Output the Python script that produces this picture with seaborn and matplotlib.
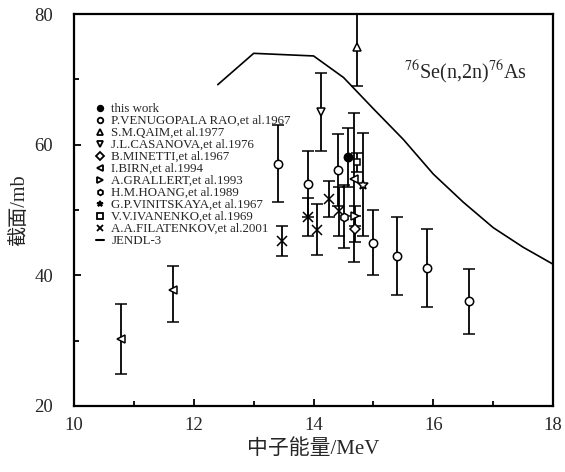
import numpy as np
import pandas as pd
import matplotlib
matplotlib.use("Agg")
import matplotlib.pyplot as plt
from matplotlib.lines import Line2D
from matplotlib.ticker import MultipleLocator
import seaborn as sns

# ---------------- data ----------------
this_x = [14.58]; this_y = [58.1]; this_e = [4.5]
rao_x = [13.40, 13.90, 14.40, 15.00, 15.40, 15.90, 16.60]
rao_y = [57.1, 54.0, 56.1, 45.0, 43.0, 41.1, 36.0]
rao_e = [5.9, 5.1, 5.5, 5.0, 6.0, 6.0, 5.0]
qaim_x = [14.72]; qaim_y = [75.0]; qaim_e = [6.0]
casa_x = [14.12]; casa_y = [65.0]; casa_e = [6.0]
minetti_x = [14.70]; minetti_y = [47.1]; minetti_e = [2.0]
birn_x = [10.78, 11.65, 14.67]
birn_y = [30.2, 37.7, 54.7]
birn_elo = [5.3, 4.9, 12.7]
birn_ehi = [5.4, 3.8, 10.2]
grallert_x = [14.70]; grallert_y = [49.1]; grallert_e = [1.5]
hoang_x = [14.50]; hoang_y = [49.0]; hoang_e = [4.8]
vinit_x = [14.82]; vinit_y = [53.9]; vinit_e = [7.9]
ivan_x = [14.72]; ivan_y = [57.3]; ivan_e = [1.5]
fil_x = [13.48, 13.90, 14.05, 14.25, 14.43]
fil_y = [45.2, 48.9, 47.0, 51.7, 49.8]
fil_e = [2.3, 2.9, 3.9, 2.8, 3.8]
jendl_x = [12.4, 13.0, 14.0, 14.5, 15.0, 15.5, 16.0, 16.5, 17.0, 17.5, 18.0]
jendl_y = [69.2, 74.0, 73.6, 70.3, 65.5, 60.8, 55.5, 51.2, 47.3, 44.3, 41.7]

labels = ["this work", "P.VENUGOPALA RAO,et al.1967", "S.M.QAIM,et al.1977",
          "J.L.CASANOVA,et al.1976", "B.MINETTI,et al.1967", "I.BIRN,et al.1994",
          "A.GRALLERT,et al.1993", "H.M.HOANG,et al.1989", "G.P.VINITSKAYA,et al.1967",
          "V.V.IVANENKO,et al.1969", "A.A.FILATENKOV,et al.2001", "JENDL-3"]

# ---------------- style ----------------
sns.set_theme(style="ticks")
plt.rcParams['font.family'] = ['Liberation Serif', 'Noto Sans CJK SC', 'DejaVu Sans']
plt.rcParams['mathtext.fontset'] = 'stix'

fig = plt.figure(figsize=(5.65, 4.72), dpi=100)
ax = fig.add_axes([0.131, 0.140, 0.848, 0.830])

# JENDL-3 curve
jdf = pd.DataFrame({"E": jendl_x, "sigma": jendl_y})
sns.lineplot(data=jdf, x="E", y="sigma", ax=ax, color="black", lw=1.2,
             legend=False, zorder=2)

ms = 6
common = dict(ecolor="black", elinewidth=1.3, capsize=4, capthick=1.1,
              linestyle="none", zorder=3)

def eb(x, y, e, marker, mfc="white", ms_=ms, mew=1.1):
    ax.errorbar(x, y, yerr=e, fmt=marker, mfc=mfc, mec="black", ms=ms_,
                mew=mew, **common)

eb(rao_x, rao_y, rao_e, "o")
eb(fil_x, fil_y, fil_e, "x", ms_=6.5)
eb(qaim_x, qaim_y, qaim_e, "^")
eb(casa_x, casa_y, casa_e, "v")
eb(birn_x, birn_y, [birn_elo, birn_ehi], "<")
eb(minetti_x, minetti_y, minetti_e, "D", ms_=5)
eb(grallert_x, grallert_y, grallert_e, ">")
eb(hoang_x, hoang_y, hoang_e, "h", ms_=6)
eb(vinit_x, vinit_y, vinit_e, "*", ms_=7)
eb(ivan_x, ivan_y, ivan_e, "s", ms_=5)
eb(this_x, this_y, this_e, "o", mfc="black")

ax.set_xlim(10, 18)
ax.set_ylim(20, 80)
ax.xaxis.set_major_locator(MultipleLocator(2))
ax.xaxis.set_minor_locator(MultipleLocator(1))
ax.yaxis.set_major_locator(MultipleLocator(20))
ax.yaxis.set_minor_locator(MultipleLocator(10))
ax.tick_params(which="both", direction="in", top=False, right=False,
               labelsize=13.5, color="black")
ax.tick_params(axis="x", which="both", pad=8)
ax.tick_params(axis="y", which="both", pad=15)
ax.tick_params(which="major", length=5, width=1.3)
ax.tick_params(which="minor", length=3.5, width=1.3)
for s in ax.spines.values():
    s.set_visible(True)
    s.set_linewidth(1.6)
    s.set_color("black")

ax.set_xlabel("中子能量/MeV", fontsize=15, labelpad=4)
ax.set_ylabel("截面/mb", fontsize=14.5, labelpad=4)

ax.text(0.946, 0.852, r"$^{76}$Se(n,2n)$^{76}$As", transform=ax.transAxes,
        fontsize=14.5, ha="right", va="center")

# legend
lmk = dict(color="black", linestyle="none", mec="black", ms=4, mew=1.3)
handles = [
    Line2D([], [], marker="o", mfc="black", **lmk),
    Line2D([], [], marker="o", mfc="white", **lmk),
    Line2D([], [], marker="^", mfc="white", **lmk),
    Line2D([], [], marker="v", mfc="white", **lmk),
    Line2D([], [], marker="D", mfc="white", **lmk),
    Line2D([], [], marker="<", mfc="white", **lmk),
    Line2D([], [], marker=">", mfc="white", **lmk),
    Line2D([], [], marker="h", mfc="white", **lmk),
    Line2D([], [], marker="*", mfc="white", **lmk),
    Line2D([], [], marker="s", mfc="white", **lmk),
    Line2D([], [], marker="x", mfc="white", **lmk),
    Line2D([], [], color="black", lw=1.5),
]
leg = ax.legend(handles, labels, loc="upper left", bbox_to_anchor=(0.035, 0.787),
                frameon=False, fontsize=9.3, handlelength=0.6, handletextpad=0.6,
                labelspacing=0.0, borderaxespad=0, handleheight=0.5)

fig.savefig("out.png", dpi=100)
